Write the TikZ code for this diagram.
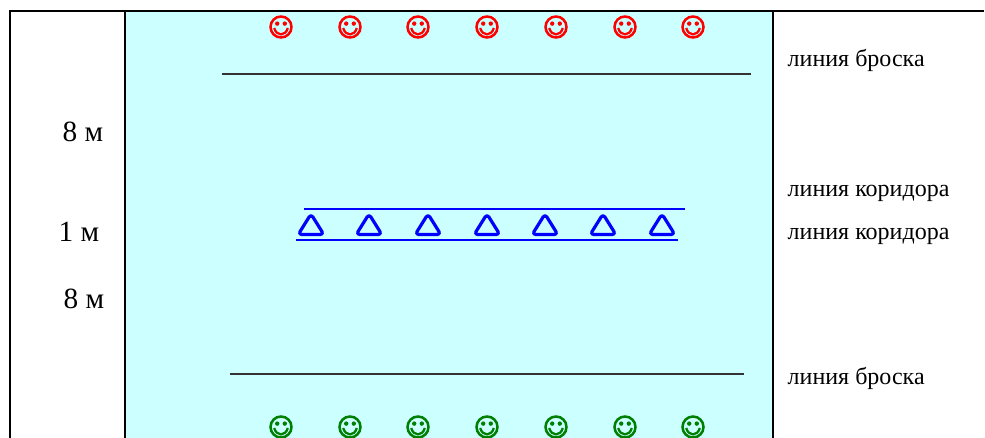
\documentclass[tikz,border=0pt]{standalone}
\usepackage{fontspec}
\setmainfont{Liberation Serif}
\definecolor{fieldcyan}{RGB}{204,255,255}
\definecolor{smilered}{RGB}{255,0,0}
\definecolor{smilegreen}{RGB}{0,128,0}
\tikzset{
	border/.style={line width=1.5pt, black},
	throwline/.style={line width=1.2pt, black!80},
	corridor/.style={blue, line width=1.5pt},
	cone/.style={blue, line width=2.4pt, line join=round, rounded corners=2.6pt},
	distlabel/.style={anchor=base, font=\fontsize{22}{24}\selectfont},
	linelabel/.style={anchor=base west, font=\fontsize{18}{20}\selectfont},
	pics/smiley/.style={code={
		\draw [#1, line width=1.9pt] (0,0) circle (10.5);
		\fill [#1] (-3.8,-3.4) circle (2.2) (3.8,-3.4) circle (2.2);
		\draw [#1, line width=1.7pt] (-6.8,1) .. controls (-4.5,9.5) and (4.5,9.5) .. (6.8,1);
	}},
	pics/conemark/.style={code={
		\draw [cone] (0,-12.5) -- (12.8,8) -- (-12.8,8) -- cycle;
	}}
}
\begin{document}
\begin{tikzpicture} [x=0.75pt, y=-0.75pt]
	\useasboundingbox (0,0) rectangle (985,438);
	\begin{scope}
	\clip (0,0) rectangle (985,438);
	\fill [fieldcyan] (125,11) rectangle (773,438);
	\draw [border] (10,438) -- (10,11) -- (984,11);
	\draw [border] (125,11) -- (125,438);
	\draw [border] (773,11) -- (773,438);
	% players
	\foreach \px in {281,350,418,487,556,625,693} {
		\pic at (\px,27) {smiley=smilered};
		\pic at (\px,427) {smiley=smilegreen};
	}
	% cones
	\foreach \px in {311,369,428,487,545,603,662}
		\pic at (\px,226.5) {conemark};
	\end{scope}
	% lines
	\coordinate (throwtopl) at (222,74);
	\coordinate (throwtopr) at (751,74);
	\coordinate (corrtopl) at (304,209);
	\coordinate (corrtopr) at (685,209);
	\coordinate (corrbotl) at (296,240);
	\coordinate (corrbotr) at (678,240);
	\coordinate (throwbotl) at (230,374);
	\coordinate (throwbotr) at (744,374);
	\draw [throwline] (throwtopl) -- (throwtopr);
	\draw [corridor, line width=1.2pt] (corrtopl) -- (corrtopr);
	\draw [corridor] (corrbotl) -- (corrbotr);
	\draw [throwline] (throwbotl) -- (throwbotr);
	% labels
	\node [distlabel] (disttop) at (83,142) {8 м};
	\node [distlabel] (distmid) at (79,242) {1 м};
	\node [distlabel] (distbot) at (84,309) {8 м};
	\node [linelabel] (labthrowtop) at (783,67) {линия броска};
	\node [linelabel] (labcorrtop) at (783,197) {линия коридора};
	\node [linelabel] (labcorrbot) at (783,240) {линия коридора};
	\node [linelabel] (labthrowbot) at (783,384) {линия броска};
\end{tikzpicture}
\end{document}
